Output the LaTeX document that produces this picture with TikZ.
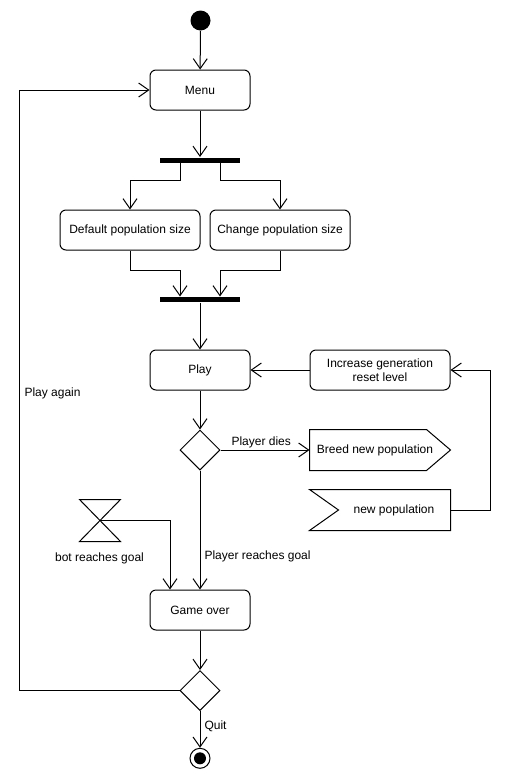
\documentclass[tikz,border=0pt]{standalone}
\usepackage{fontspec}
\setmainfont{Liberation Sans}
\usetikzlibrary{arrows.meta,shapes.geometric,calc}
\begin{document}
\begin{tikzpicture}[x=1pt,y=-1pt, font=\fontsize{12}{14}\selectfont, line width=1pt,
  act/.style={draw, rounded corners=6pt, minimum width=100pt, minimum height=40pt, inner sep=0pt, align=center},
  wideact/.style={act, minimum width=140pt},
  bar/.style={fill=black, draw=none, minimum width=80pt, minimum height=5pt, inner sep=0pt},
  dec/.style={draw, diamond, minimum width=40pt, minimum height=40pt, inner sep=0pt},
  flow/.style={-{Straight Barb[length=10pt,width=14pt]}},
  lbl/.style={inner sep=0pt},
  ghost/.style={minimum width=140pt, minimum height=40pt, inner sep=0pt}
]
\useasboundingbox (0,0) rectangle (520,780);

% nodes
\node[circle, fill=black, minimum size=20pt, inner sep=0pt] (start) at (200.5,20.5) {};
\node[act] (menu) at (200,90) {Menu};
\node[bar] (bar1) at (200,160) {};
\node[wideact] (dflt) at (130,230) {Default population size};
\node[wideact] (chng) at (280,230) {Change population size};
\node[bar] (bar2) at (200,299.5) {};
\node[act] (play) at (200,370) {Play};
\node[wideact] (incr) at (380,370) {Increase generation\\reset level};
\node[dec] (d1) at (200,450) {};
\node[ghost] (breed) at (380,450) {};
\node[lbl] (breedtxt) at (375,450) {Breed new population};
\node[ghost] (newpop) at (380,510) {};
\node[lbl] (newpoptxt) at (394,510) {new population};
\node[minimum width=40pt, minimum height=41pt, inner sep=0pt] (timer) at (100,520.5) {};
\node[act] (gover) at (200,610) {Game over};
\node[dec] (d2) at (200,690.5) {};
\node[circle, draw, minimum size=20pt, inner sep=0pt] (end) at (200,758.3) {};
\node[circle, fill=black, minimum size=12pt, inner sep=0pt] (endin) at (end.center) {};

% shapes drawn from anchors
\draw (breed.north west) -- ($(breed.north east)+(-24,0)$) -- (breed.east)
      -- ($(breed.south east)+(-24,0)$) -- (breed.south west) -- cycle;
\draw (newpop.north west) -- (newpop.north east) -- (newpop.south east)
      -- (newpop.south west) -- ($(newpop.west)+(29,0)$) -- cycle;
\draw (timer.north west) -- (timer.north east) -- (timer.south west)
      -- (timer.south east) -- cycle;

% labels
\node[lbl, anchor=west] (pdies) at (231,442) {Player dies};
\node[lbl, anchor=west] (preach) at (204,556) {Player reaches goal};
\node[lbl] (breach) at (99.5,558) {bot reaches goal};
\node[lbl, anchor=west] (again) at (24,393) {Play again};
\node[lbl, anchor=west] (quit) at (204,726) {Quit};

% connectors
\draw[flow] (start) -- (menu);
\draw[flow] (menu) -- (bar1);
\draw[flow] ([xshift=-20pt]bar1.south) -- ++(0,17) -| (dflt.north);
\draw[flow] ([xshift=20pt]bar1.south) -- ++(0,17) -| (chng.north);
\draw[flow] (dflt.south) -- ++(0,20) -| ([xshift=-20pt]bar2.north);
\draw[flow] (chng.south) -- ++(0,20) -| ([xshift=20pt]bar2.north);
\draw[flow] (bar2) -- (play);
\draw[flow] (incr.west) -- (play.east);
\draw[flow] (play) -- (d1);
\draw[flow] (d1.east) -- (breed.west);
\draw[flow] (newpop.east) -- ++(40,0) |- (incr.east);
\draw[flow] (d1.south) -- (gover.north);
\draw[flow] (timer.center) -| ([xshift=-30pt]gover.north);
\draw[flow] (gover) -- (d2);
\draw[flow] (d2.west) -- ++(-160,0) |- (menu.west);
\draw[flow] (d2.south) -- (end.north);
\end{tikzpicture}
\end{document}
